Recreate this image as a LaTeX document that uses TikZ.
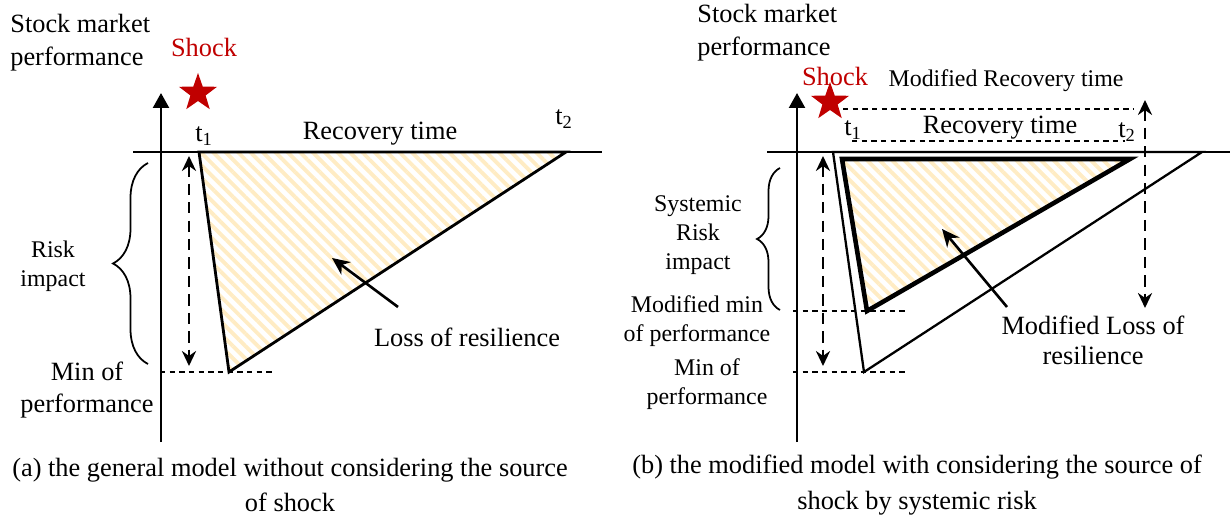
\documentclass[tikz,border=0pt]{standalone}
\usepackage{fontspec}
\setmainfont{Liberation Serif}
\usetikzlibrary{arrows.meta, shapes.geometric, patterns.meta, decorations.pathreplacing}
\definecolor{shockred}{RGB}{192,0,0}
\definecolor{hatchgold}{RGB}{255,236,196}

\begin{document}
\begin{tikzpicture}[
  x=0.02cm, y=-0.02cm,
  font=\fontsize{15}{18.7}\selectfont,
  every node/.style={align=center, inner sep=0pt},
  lbl/.style={font=\fontsize{13.6}{16.4}\selectfont},
  axis/.style={-{Triangle[length=8.5pt, width=9pt]}, line width=1.5pt},
  base/.style={line width=0.7pt},
  guide/.style={line width=0.7pt, dash pattern=on 3pt off 2.5pt},
  span/.style={{Stealth[length=8.5pt, width=8pt]}-{Stealth[length=8.5pt, width=8pt]},
               line width=1.5pt, dash pattern=on 6.5pt off 4pt},
  loss/.style={pattern={Lines[angle=-45, distance=5pt, line width=2.2pt]}, pattern color=hatchgold},
  tri/.style={line width=1.6pt, line join=miter},
  pointer/.style={-{Stealth[length=10pt, width=9pt]}, line width=1.5pt},
  shockstar/.style={star, star points=5, star point ratio=2.5, fill=shockred, minimum size=0.8cm},
  impact/.style={decorate, line width=1pt},
]
\useasboundingbox (0,0) rectangle (1230,523);

%% (a) general model
\coordinate (a-axbot) at (161,442);
\coordinate (a-axtop) at (161,93);
\draw[axis] (a-axbot) -- (a-axtop);
\coordinate (a-xl) at (133,152);
\coordinate (a-xr) at (602,152);
\draw[base] (a-xl) -- (a-xr);

\coordinate (a-t1) at (199,152);
\coordinate (a-t2) at (566,152);
\coordinate (a-low) at (229,372);
\draw[tri, loss] (a-t1) -- (a-t2) -- (a-low) -- cycle;

\coordinate (a-minl) at (160,372);
\coordinate (a-minr) at (272,372);
\draw[guide] (a-minl) -- (a-minr);
\coordinate (a-spantop) at (189,156);
\coordinate (a-spanbot) at (189,366);
\draw[span] (a-spantop) -- (a-spanbot);
\coordinate (a-brtop) at (148,163);
\coordinate (a-brbot) at (148,364);
\draw[impact, decoration={brace, amplitude=0.7cm}] (a-brbot) -- (a-brtop);

\node[anchor=west, align=left] (a-ylabel) at (10,43) {Stock market\\performance};
\node[text=shockred] (a-shocklbl) at (204,47) {Shock};
\node[shockstar] (a-star) at (198,93) {};
\node (a-t1lbl) at (204,136) {t\textsubscript{1}};
\node (a-t2lbl) at (564,119) {t\textsubscript{2}};
\node (a-rec) at (380,134) {Recovery time};
\node[lbl] (a-risk) at (53,266) {Risk\\impact};
\node (a-minlbl) at (87,390) {Min of\\performance};
\node (a-losslbl) at (467,337) {Loss of resilience};
\coordinate (a-losstail) at (398,307);
\coordinate (a-losstip) at (332,258);
\draw[pointer] (a-losstail) -- (a-losstip);
\node[font=\fontsize{15}{20.4}\selectfont] (a-cap) at (290,485)
  {(a) the general model without considering the source\\of shock};

%% (b) modified model
\coordinate (b-axbot) at (797,442);
\coordinate (b-axtop) at (797,93);
\draw[axis] (b-axbot) -- (b-axtop);
\coordinate (b-xl) at (767,152);
\coordinate (b-xr) at (1230,152);
\draw[base] (b-xl) -- (b-xr);

\coordinate (b-t1) at (833,152);
\coordinate (b-t2) at (1202,152);
\coordinate (b-low) at (864,372);
\draw[line width=1.3pt, line join=miter] (b-t1) -- (b-t2) -- (b-low) -- cycle;
\coordinate (b-mt1) at (842,159);
\coordinate (b-mt2) at (1130,159);
\coordinate (b-mlow) at (867,311);
\draw[tri, loss, line width=2.6pt] (b-mt1) -- (b-mt2) -- (b-mlow) -- cycle;

\coordinate (b-mrl) at (843,109);
\coordinate (b-mrr) at (1133,109);
\draw[guide] (b-mrl) -- (b-mrr);
\coordinate (b-rl) at (852,141);
\coordinate (b-rr) at (1125,141);
\draw[guide] (b-rl) -- (b-rr);
\coordinate (b-mspantop) at (1145,100);
\coordinate (b-mspanbot) at (1145,308);
\draw[span] (b-mspantop) -- (b-mspanbot);

\coordinate (b-mminl) at (793,311);
\coordinate (b-mminr) at (905,311);
\draw[guide] (b-mminl) -- (b-mminr);
\coordinate (b-minl) at (793,372);
\coordinate (b-minr) at (905,372);
\draw[guide] (b-minl) -- (b-minr);
\coordinate (b-spantop) at (823,156);
\coordinate (b-spanbot) at (823,366);
\draw[span] (b-spantop) -- (b-spanbot);
\coordinate (b-brtop) at (780,168);
\coordinate (b-brbot) at (780,310);
\draw[impact, decoration={brace, amplitude=0.46cm}] (b-brbot) -- (b-brtop);

\node[anchor=west, align=left] (b-ylabel) at (697,33) {Stock market\\performance};
\node[text=shockred] (b-shocklbl) at (835,76) {Shock};
\node[shockstar] (b-star) at (830,102) {};
\node[lbl] (b-modrec) at (1006,81) {Modified Recovery time};
\node (b-t1lbl) at (853,130) {t\textsubscript{1}};
\node (b-rec) at (1000,128) {Recovery time};
\node (b-t2lbl) at (1127,132) {t\textsubscript{2}};
\node[lbl] (b-sysrisk) at (698,235) {Systemic\\Risk\\impact};
\node[lbl] (b-modmin) at (697,321) {Modified min\\of performance};
\node[lbl] (b-minlbl) at (707,384) {Min of\\performance};
\node[font=\fontsize{15}{17}\selectfont] (b-losslbl) at (1093,340) {Modified Loss of\\resilience};
\coordinate (b-losstail) at (1007,307);
\coordinate (b-losstip) at (942,229);
\draw[pointer] (b-losstail) -- (b-losstip);
\node[font=\fontsize{15}{20.4}\selectfont] (b-cap) at (917,485)
  {(b) the modified model with considering the source of\\shock by systemic risk};

\end{tikzpicture}
\end{document}
